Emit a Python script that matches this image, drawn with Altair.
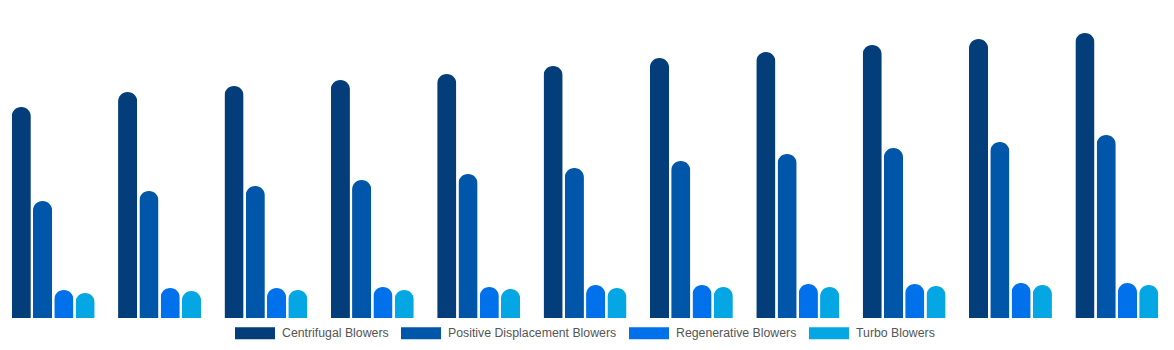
import altair as alt
import pandas as pd

years = ["2024", "2025", "2026", "2027", "2028", "2029", "2030", "2031", "2032", "2033", "2034"]
series = ["Centrifugal Blowers", "Positive Displacement Blowers", "Regenerative Blowers", "Turbo Blowers"]
colors = ["#033E7A", "#0056A8", "#0071EB", "#05A6E4"]

centrifugal = [2.11, 2.26, 2.32, 2.38, 2.44, 2.52, 2.60, 2.66, 2.73, 2.79, 2.85]
positive = [1.17, 1.27, 1.32, 1.38, 1.44, 1.50, 1.57, 1.64, 1.70, 1.76, 1.83]
regenerative = [0.28, 0.30, 0.30, 0.31, 0.31, 0.33, 0.33, 0.34, 0.34, 0.35, 0.35]
turbo = [0.25, 0.27, 0.28, 0.28, 0.29, 0.30, 0.31, 0.31, 0.32, 0.33, 0.33]

rows = []
for name, vals in zip(series, [centrifugal, positive, regenerative, turbo]):
    for y, v in zip(years, vals):
        rows.append({"year": y, "series": name, "value": v})
df = pd.DataFrame(rows)

chart = (
    alt.Chart(df)
    .mark_bar(cornerRadiusTopLeft=9.5, cornerRadiusTopRight=9.5)
    .encode(
        x=alt.X("year:N", axis=None, sort=years,
                scale=alt.Scale(paddingInner=0.22, paddingOuter=0.11)),
        xOffset=alt.XOffset("series:N", sort=series,
                            scale=alt.Scale(domain=series, paddingInner=0.1, paddingOuter=0)),
        y=alt.Y("value:Q", axis=None, scale=alt.Scale(domain=[0, 3.08], nice=False, zero=True)),
        color=alt.Color(
            "series:N",
            scale=alt.Scale(domain=series, range=colors),
            legend=alt.Legend(
                title=None,
                orient="none",
                legendX=235,
                legendY=303,
                direction="horizontal",
                symbolType="M-1,-0.3H1V0.3H-1Z",
                symbolSize=1600,
                symbolStrokeWidth=0,
                symbolOpacity=1,
                labelFont="Liberation Sans",
                labelFontSize=12.3,
                labelColor="#555555",
                labelOffset=7,
                labelLimit=400,
                columnPadding=12,
                padding=0,
            ),
        ),
    )
    .properties(
        width=1170,
        height=308,
        autosize=alt.AutoSizeParams(type="none"),
        padding={"left": 0, "top": 10, "right": 4, "bottom": 32},
    )
    .configure_view(strokeWidth=0)
)

chart.save("out.html", embed_options={"renderer": "svg", "actions": False})
